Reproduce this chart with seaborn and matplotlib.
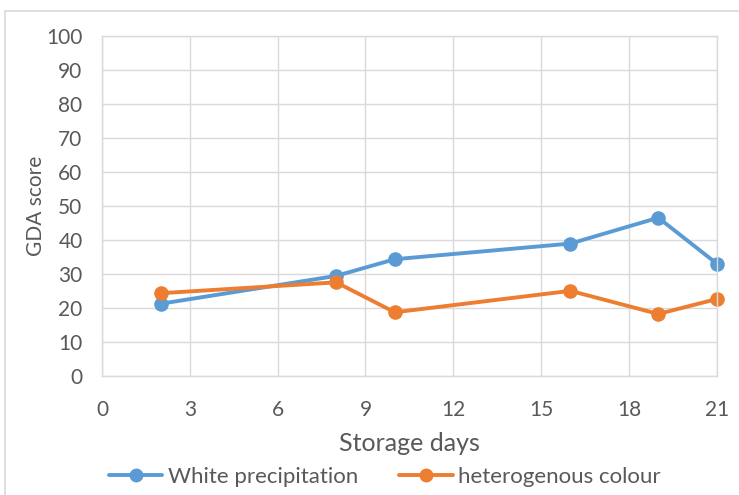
import matplotlib
matplotlib.use("Agg")
import matplotlib.pyplot as plt
import seaborn as sns
import pandas as pd
from matplotlib.patches import Rectangle
from matplotlib.lines import Line2D

days = [2, 8, 10, 16, 19, 21]
white_precipitation = [21.3, 29.5, 34.4, 39.0, 46.6, 33.1]
heterogenous_colour = [24.4, 27.6, 18.8, 25.1, 18.3, 22.7]
series_names = ["White precipitation", "heterogenous colour"]
x_ticks = [0, 3, 6, 9, 12, 15, 18, 21]
y_ticks = list(range(0, 101, 10))

df = pd.DataFrame({
    "day": days * 2,
    "score": white_precipitation + heterogenous_colour,
    "series": [series_names[0]] * len(days) + [series_names[1]] * len(days),
})

sns.set_theme(style="white")
plt.rcParams["font.family"] = ["Lato", "DejaVu Sans"]

fig = plt.figure(figsize=(7.39, 4.95), dpi=100)
ax = fig.add_axes([0.138, 0.240, 0.832, 0.687])

palette = {series_names[0]: "#5B9BD5", series_names[1]: "#ED7D31"}
sns.lineplot(data=df, x="day", y="score", hue="series", palette=palette,
             marker="o", markersize=10.5, markeredgewidth=0, linewidth=2.8,
             ax=ax, legend=False)
for ln in ax.lines:
    ln.set_clip_on(False)

ax.set_xlim(0, 21)
ax.set_ylim(0, 100)
ax.set_xticks(x_ticks)
ax.set_yticks(y_ticks)
ax.grid(True, color="#d9d9d9", linewidth=1)
ax.set_axisbelow(True)
for s in ax.spines.values():
    s.set_color("#d9d9d9")
    s.set_linewidth(1)
ax.tick_params(axis="both", colors="#595959", labelsize=15, length=0)
ax.tick_params(axis="x", pad=17)
ax.tick_params(axis="y", pad=14)
ax.set_xlabel("Storage days", fontsize=18, color="#595959", labelpad=9)
ax.set_ylabel("GDA score", fontsize=15, color="#595959", labelpad=0)

handles = [Line2D([0], [0], color=palette[n], marker="o", markersize=10,
                  markeredgewidth=0, linewidth=2.8) for n in series_names]
fig.legend(handles, series_names, loc="center", ncol=2, frameon=False,
           fontsize=16, bbox_to_anchor=(0.521, 1 - 477 / 495), handlelength=2.4,
           columnspacing=1.85, labelcolor="#595959", handletextpad=0.25)

fig.patches.append(Rectangle((5 / 739, -0.05), 1.2, 1 - 11 / 495 + 0.05,
                             transform=fig.transFigure, fill=False,
                             edgecolor="#d9d9d9", linewidth=1.2))

fig.savefig("out.png", dpi=100)
